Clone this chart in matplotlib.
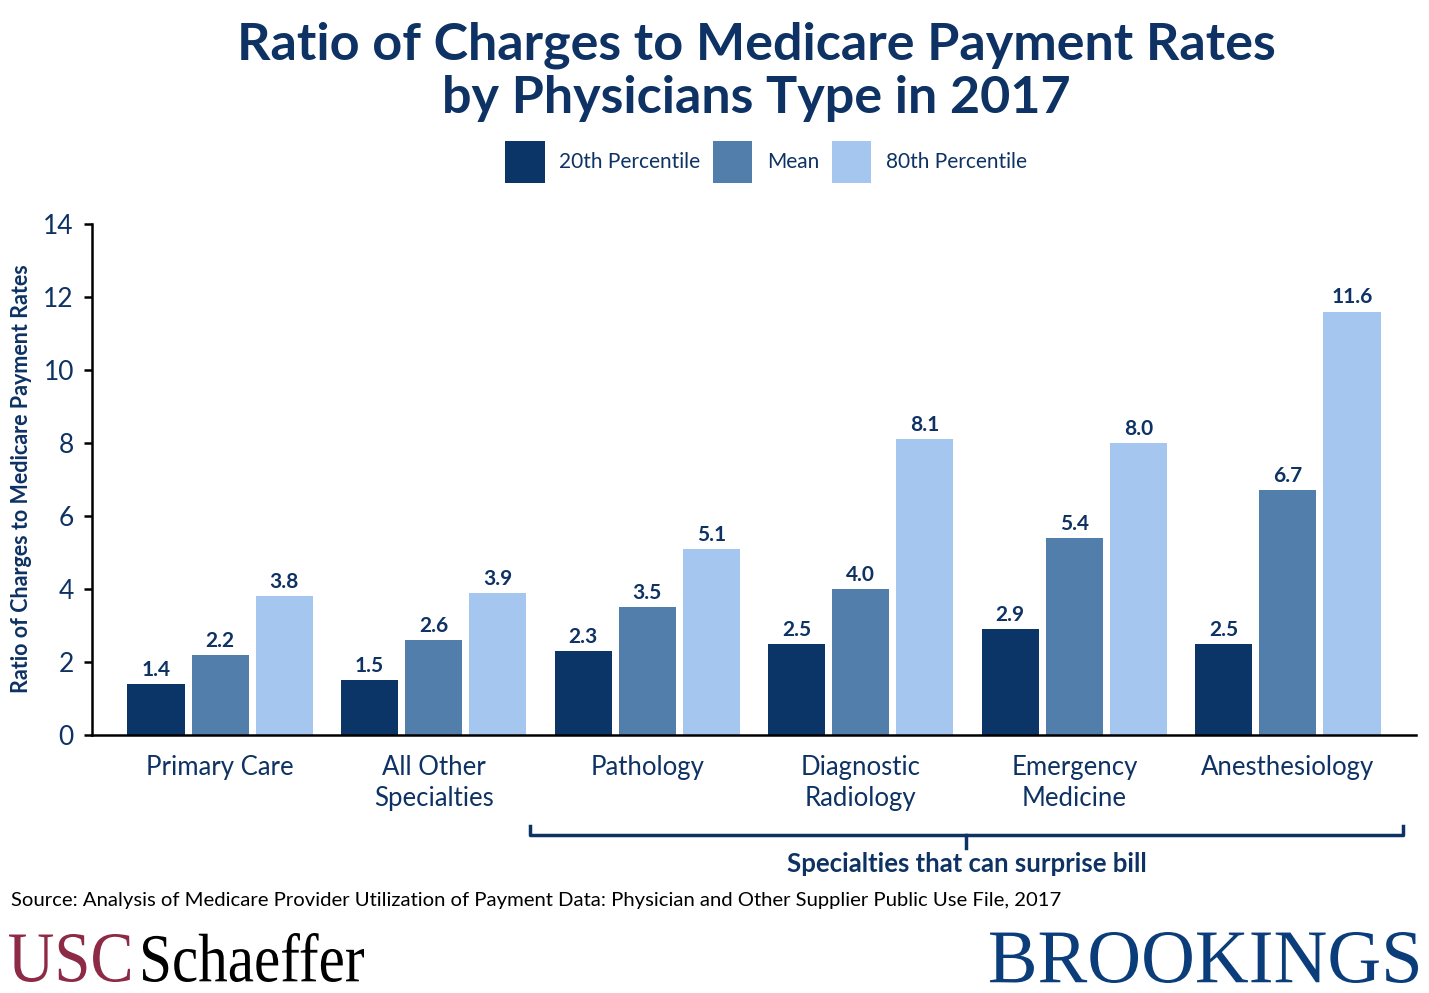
import matplotlib.pyplot as plt
import numpy as np
from matplotlib.textpath import TextPath
from matplotlib.patches import PathPatch
from matplotlib.font_manager import FontProperties
from matplotlib.transforms import Affine2D, IdentityTransform

# Global plot settings
plt.rcParams.update({
	"font.family": ["Lato", "DejaVu Sans"],
	"axes.linewidth": 1.8,
	})

navy = "#0d3263"
colors = ["#0a3566", "#527eab", "#a4c6ef"]

# Data
categories = ["Primary Care", "All Other\nSpecialties", "Pathology",
	"Diagnostic\nRadiology", "Emergency\nMedicine", "Anesthesiology"]
series_names = ["20th Percentile", "Mean", "80th Percentile"]
p20 = [1.4, 1.5, 2.3, 2.5, 2.9, 2.5]
mean = [2.2, 2.6, 3.5, 4.0, 5.4, 6.7]
p80 = [3.8, 3.9, 5.1, 8.1, 8.0, 11.6]
yticks = [0, 2, 4, 6, 8, 10, 12, 14]

fig = plt.figure(figsize=(14.29, 9.93), dpi=100)
ax = fig.add_axes([0.0644, 0.2598, 0.9265, 0.5146])

x = np.arange(len(categories))
width = 0.268
offset = 0.30
for i, (vals, name) in enumerate(zip([p20, mean, p80], series_names)):
	bars = ax.bar(x + (i - 1) * offset, vals, width, color=colors[i], label=name)
	ax.bar_label(bars, labels=[f"{v:.1f}" for v in vals], padding=3,
		fontsize=15, fontweight="bold", color=navy)

ax.set_xlim(-0.6, 5.6)
ax.set_ylim(0, 14)
ax.set_yticks(yticks)
ax.tick_params(axis="y", labelsize=19, labelcolor=navy, length=6, width=1.8, pad=7)
ax.set_xticks(x)
ax.set_xticklabels(categories, fontsize=18.5, color=navy, linespacing=1.3)
ax.tick_params(axis="x", length=0, pad=14.5)
ax.spines["top"].set_visible(False)
ax.spines["right"].set_visible(False)
ax.set_ylabel("Ratio of Charges to Medicare Payment Rates", fontsize=15.5,
	fontweight="bold", color=navy)
ax.yaxis.set_label_coords(-0.045, 0.502)

# Title and legend
fig.text(0.529, 0.978, "Ratio of Charges to Medicare Payment Rates\nby Physicians Type in 2017",
	ha="center", va="top", fontsize=37.5, fontweight="bold", color=navy, linespacing=1.15)
fig.legend(loc="center", bbox_to_anchor=(0.536, 0.837), ncol=3, frameon=False,
	fontsize=15, handlelength=1.9, handleheight=2.7, handletextpad=0.7,
	columnspacing=0.6, labelcolor=navy)

# Bracket for specialties that can surprise bill
tr = ax.get_xaxis_transform()
ax.plot([1.45, 1.45, 5.54, 5.54], [-0.178, -0.196, -0.196, -0.178], color=navy,
	lw=2.5, transform=tr, clip_on=False)
ax.plot([3.495, 3.495], [-0.196, -0.222], color=navy, lw=2.5, transform=tr, clip_on=False)
ax.text(3.495, -0.229, "Specialties that can surprise bill", transform=tr, ha="center",
	va="top", fontsize=18.5, fontweight="bold", color=navy)

# Source
fig.text(0.008, 0.093, "Source: Analysis of Medicare Provider Utilization of Payment Data: "
	"Physician and Other Supplier Public Use File, 2017", fontsize=14.6, color="black",
	va="center")


# Logos drawn as condensed serif text fitted into a pixel box
def logo_text(text, x0, x1, y0, y1, color):
	tp = TextPath((0, 0), text, size=50, prop=FontProperties(family="Liberation Serif"))
	bb = tp.get_extents()
	t = (Affine2D().translate(-bb.x0, -bb.y0)
		.scale((x1 - x0) / bb.width, (y1 - y0) / bb.height).translate(x0, y0))
	fig.add_artist(PathPatch(tp, transform=t + IdentityTransform(), color=color, lw=0))


H = 993
logo_text("USC", 9, 130, H - 982, H - 934, "#8d2a45")
logo_text("Schaeffer", 143, 364, H - 982, H - 933, "black")
logo_text("BROOKINGS", 990, 1418, H - 983, H - 932, "#0b3d7a")

fig.savefig("out.png", dpi=100)
